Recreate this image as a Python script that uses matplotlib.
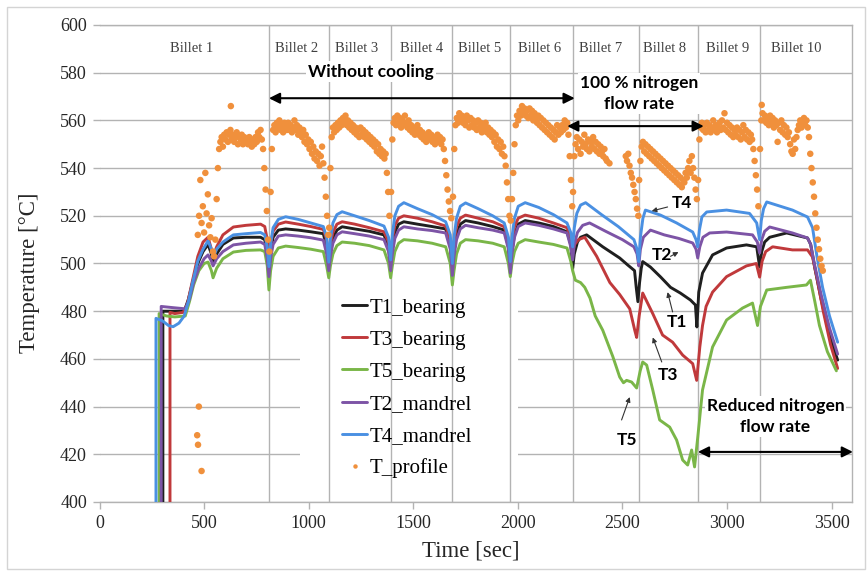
import numpy as np
import matplotlib
matplotlib.use('Agg')
import matplotlib.pyplot as plt
from matplotlib.patches import Rectangle
from matplotlib.lines import Line2D

# ---------------- data ----------------
billet_edges = [810, 1096, 1392, 1687, 1964, 2262, 2578, 2860, 3156]
billet_names = ['Billet 1', 'Billet 2', 'Billet 3', 'Billet 4', 'Billet 5',
                'Billet 6', 'Billet 7', 'Billet 8', 'Billet 9', 'Billet 10']
billet_label_t = [442, 944, 1230, 1540, 1818, 2105, 2396, 2702, 3003, 3333]

# shared time points for billets 2-6 (all thermocouples)
mid_t = [810, 818, 830, 855, 890, 950, 1010, 1070, 1086,
         1096, 1104, 1116, 1135, 1160, 1220, 1290, 1360, 1382,
         1392, 1400, 1412, 1430, 1455, 1520, 1590, 1655, 1677,
         1687, 1695, 1707, 1725, 1750, 1810, 1880, 1935, 1955,
         1964, 1972, 1984, 2002, 2035, 2100, 2170, 2235, 2253]

# T1_bearing (black)
t1_b1_t = [303, 303, 350, 405, 425, 445, 470, 495, 519, 535, 543, 560, 590, 640, 700, 770, 790, 802]
t1_b1_T = [400, 480, 480, 480, 485, 492, 500, 505, 508, 504, 500.6, 504, 508, 510.7, 511, 511, 510, 504]
t1_mid_T = [496.6, 505, 511, 514, 514.5, 514, 513.3, 512.5, 507,
            498, 505, 510.5, 514, 515.4, 514.5, 513.5, 512, 507,
            498, 506, 513, 516.5, 517.5, 516.5, 515.5, 514.5, 508,
            497, 505, 512, 516.5, 518, 517, 515.5, 514, 507,
            497.3, 505, 512, 516.5, 518, 517, 515.5, 513.3, 508]
t1_b7_t = [2262, 2270, 2285, 2300, 2329, 2406, 2487, 2525, 2558, 2566, 2574, 2582, 2590, 2597,
           2634, 2682, 2730, 2777, 2825, 2849, 2856, 2865, 2883, 2931, 2998, 3093, 3142, 3156,
           3166, 3180, 3204, 3285, 3385, 3400, 3420, 3450, 3490, 3529]
t1_b7_T = [498, 504, 509, 511, 512, 507, 502.3, 499.4, 497, 490, 484, 492, 498, 500.8,
           498.5, 494.4, 490, 487.6, 484.7, 482.6, 473.4, 488, 496, 503.6, 506.5, 507.8, 507, 498.5,
           505, 509, 511, 512.8, 510.7, 508, 498, 485, 470, 459.5]

# T3_bearing (red)
t3_b1_t = [337, 337, 360, 400, 420, 445, 470, 495, 519, 535, 543, 560, 590, 640, 700, 770, 790, 802]
t3_b1_T = [400, 479.5, 479, 479.5, 483, 493, 503, 509, 511, 506, 502.7, 507, 512, 515.3, 516, 516.5, 515.5, 510]
t3_mid_T = [500, 508, 513.5, 516.5, 517.4, 516.5, 515.5, 514.3, 510,
            501, 508, 513, 516.5, 517.5, 516.5, 515, 513.3, 509,
            502, 510, 516, 519, 520, 519, 517.5, 515.7, 510,
            501, 509, 515.5, 519, 520.3, 519, 517.5, 515.4, 510,
            501, 509, 515.5, 519, 520.3, 519, 517, 515, 511]
t3_b7_t = [2262, 2272, 2290, 2320, 2377, 2440, 2487, 2535, 2559, 2568,
           2580, 2597, 2645, 2692, 2740, 2788, 2836, 2855, 2870, 2883,
           2900, 2931, 2998, 3093, 3140, 3156, 3168, 3185, 3218, 3313,
           3385, 3409, 3430, 3460, 3495, 3529]
t3_b7_T = [505, 508, 510, 511, 503, 492, 487, 481, 472, 469,
           478, 487.6, 479, 470, 467, 461.6, 458, 451, 465, 474,
           482, 488, 494.5, 499, 500, 494.3, 501, 505, 507, 505.7,
           505.7, 502.7, 494, 480, 466, 456]

# T5_bearing (green)
t5_b1_t = [285, 285, 320, 360, 410, 430, 450, 475, 500, 519, 535, 543, 560, 590, 640, 700, 770, 790, 802]
t5_b1_T = [400, 479, 478, 477.6, 478, 484, 491, 497, 500, 500.6, 497, 494, 498, 502, 504.8, 505.5, 505.7, 505, 499]
t5_mid_T = [488.9, 497, 503, 506.5, 507.3, 506.7, 506, 505, 499,
            494, 499, 504, 507.5, 509, 508.5, 507.5, 505.7, 500,
            494, 499, 505, 508.5, 510, 509.5, 508.5, 507, 500,
            491, 497, 504, 508.5, 510, 509.5, 508.5, 507, 500,
            494.5, 500, 505, 508.5, 510, 509, 508, 506.5, 501]
t5_b7_t = [2262, 2275, 2300, 2320, 2345, 2370, 2406, 2454, 2487, 2505,
           2520, 2544, 2568, 2585, 2597, 2616, 2645, 2678, 2726, 2759,
           2788, 2812, 2831, 2845, 2860, 2883, 2931, 2998, 3074, 3122,
           3146, 3160, 3190, 3285, 3380, 3399, 3420, 3442, 3480, 3523]
t5_b7_T = [497, 493, 492, 490, 485.5, 478, 472, 461, 452.4, 450,
           451, 450.3, 447.8, 455, 458.7, 457.4, 447, 434.4, 431.4, 426,
           417.6, 415.5, 421.8, 414.7, 427, 447, 465, 476.3, 481.3, 483.4,
           474, 482, 488.9, 490, 491, 493, 484, 474, 463, 455]

# T2_mandrel (purple)
t2_b1_t = [295, 295, 350, 410, 430, 450, 475, 500, 519, 535, 543, 560, 590, 640, 700, 770, 790, 802]
t2_b1_T = [400, 482, 481.5, 481, 485, 492, 498, 502, 503.6, 501, 499, 502, 505, 507.8, 508.5, 509, 508, 502]
t2_mid_T = [494.5, 502, 508, 511.5, 512, 511.5, 510.8, 509.8, 504,
            497, 503, 508.5, 512, 513.3, 512.5, 511.5, 510, 505,
            497, 504, 510.5, 514, 515.4, 514.5, 513.8, 512.8, 506,
            495, 503, 510, 514.5, 516, 515, 514, 512.8, 506,
            496, 504, 511, 515.5, 517, 516, 514.5, 512.8, 507]
t2_b7_t = [2262, 2270, 2285, 2310, 2343, 2420, 2500, 2555, 2570, 2578,
           2586, 2600, 2634, 2700, 2770, 2836, 2852, 2860, 2870, 2885,
           2917, 2998, 3122, 3145, 3156, 3166, 3180, 3204, 3313, 3385,
           3400, 3420, 3450, 3490, 3529]
t2_b7_T = [501.5, 508, 513, 516, 517, 513.5, 510, 507, 504, 499,
           506, 511, 514, 512, 510.5, 508.6, 506, 502.3, 507, 511,
           512.8, 513.2, 512, 509, 504.4, 510, 513.5, 515.3, 512.8, 510.7,
           508, 499, 487, 473, 462]

# T4_mandrel (blue)
t4_b1_t = [270, 270, 300, 330, 352, 380, 405, 425, 445, 470, 495, 519, 535, 543, 560, 590, 640, 700, 770, 790, 802]
t4_b1_T = [400, 477, 476, 474, 473.5, 475, 478, 484, 492, 501, 506, 509.5, 506, 502.5, 506, 509, 512, 512.5, 513, 512, 507]
t4_mid_T = [498.7, 508, 515, 518.5, 519.6, 518.5, 517, 515.5, 511,
            500.6, 510, 517, 520.5, 521.7, 520, 518, 515.7, 511,
            501.5, 512, 520, 524, 525.5, 523, 520.5, 517.5, 512,
            500, 511, 519, 524, 525.4, 523, 520, 517, 511,
            500.8, 511, 519, 524, 525.5, 523.5, 520.5, 517, 513]
t4_b7_t = [2262, 2270, 2282, 2300, 2324, 2400, 2480, 2555, 2570, 2578,
           2586, 2598, 2610, 2682, 2759, 2836, 2852, 2860, 2868, 2880,
           2903, 2998, 3108, 3142, 3156, 3164, 3175, 3190, 3237, 3313,
           3385, 3409, 3430, 3457, 3490, 3529]
t4_b7_T = [507, 515, 521, 524.5, 525.5, 520.5, 515.5, 510, 506, 500.8,
           511, 519, 522.4, 520.3, 517, 513.2, 510, 507, 514, 519.5,
           521.6, 522.4, 521, 517, 510, 518, 523, 525.8, 524.5, 522.4,
           519.5, 515, 503, 490, 478, 467]

# T_profile (orange scatter): start time of each billet's readings, sampled every 6 s
profile_start = [470, 812, 1098, 1394, 1690, 1966, 2264, 2580, 2862, 3158]
profile_step = 6
profile_b1 = [512, 520, 535, 517, 524, 513, 538, 521, 529, 516,
              511, 519, 505, 503, 510, 527, 540, 548, 551, 553,
              549, 554, 552, 555, 551, 554, 556, 552, 554, 551,
              553, 555, 550, 553, 552, 554, 550, 553, 551, 552,
              550, 553, 551, 549, 552, 550, 553, 551, 555, 553,
              556, 552, 548, 540, 531, 522, 510]
profile_b2 = [505, 530, 548, 556, 558, 555, 559, 557, 560, 556,
              558, 555, 559, 557, 556, 559, 556, 558, 555, 557,
              560, 556, 558, 554, 557, 555, 553, 556, 551, 554,
              550, 552, 548, 551, 546, 549, 544, 547, 543, 546,
              541, 545, 549, 542, 536, 528, 520, 512]
profile_b3 = [515, 540, 553, 557, 555, 558, 556, 559, 557, 560,
              558, 561, 559, 562, 558, 560, 557, 559, 556, 558,
              555, 557, 554, 556, 553, 557, 554, 556, 553, 555,
              552, 554, 551, 553, 550, 552, 549, 551, 547, 550,
              546, 548, 545, 547, 544, 546, 538, 530, 520]
profile_b4 = [530, 552, 559, 561, 558, 562, 559, 561, 557, 560,
              558, 562, 559, 557, 560, 556, 558, 555, 557, 554,
              556, 558, 554, 556, 553, 555, 552, 554, 551, 553,
              555, 552, 554, 551, 553, 550, 552, 554, 551, 553,
              550, 552, 548, 543, 537, 531, 526, 522, 519]
profile_b5 = [528, 548, 558, 561, 559, 563, 560, 562, 559, 561,
              558, 562, 560, 557, 561, 558, 560, 557, 559, 556,
              560, 557, 559, 555, 558, 556, 559, 555, 557, 554,
              556, 553, 555, 551, 554, 549, 552, 548, 551, 546,
              549, 545, 541, 534, 527, 520]
profile_b6 = [518, 527, 538, 550, 558, 562, 560, 564, 562, 566,
              563, 565, 562, 564, 561, 565, 562, 564, 560, 563,
              561, 559, 562, 558, 561, 557, 560, 556, 559, 555,
              558, 554, 557, 553, 556, 552, 555, 558, 554, 557,
              555, 558, 556, 560, 557, 559, 554, 545, 535, 524]
profile_b7 = [530, 545, 550, 553, 548, 552, 546, 551, 549, 554,
              550, 548, 552, 547, 551, 549, 553, 548, 551, 547,
              550, 546, 549, 547, 545, 548, 544, 543, None, 542,
              None, None, None, None, None, None, None, None, None, None,
              None, None, 545, 543, 546, 541, 538, 536, 533, 530,
              527, 523, 520]
profile_b8 = [535, 543, 549, 551, 547, 550, 546, 549, 545, 548,
              544, 547, 543, 546, 542, 545, 541, 544, 540, 543,
              539, 542, 538, 541, 537, 540, 536, 539, 535, 538,
              534, 537, 533, 536, 532, 535, 534, 538, 536, 540,
              543, 538, 545, 540, 536, 531, 527]
profile_b9 = [535, 552, 557, 559, 556, 558, 555, 559, 556, 558,
              555, 557, 560, 556, 558, 555, 557, 559, 556, 560,
              557, 563, 556, 559, 555, 558, 554, 557, 553, 556,
              554, 557, 553, 556, 552, 555, 558, 553, 556, 552,
              555, 551, 554, 552, 548, 543, 537, 531, 524]
profile_b10 = [548, 560, 563, 560, 562, 559, 561, 558, 562, 559,
               561, 557, 560, 558, 551, 559, 556, 560, 555, 558,
               554, 557, 553, 555, 550, 547, 546, 552, 548, 553,
               556, 558, 560, 557, 559, 561, 558, 560, 557, 553,
               546, 540, 534, 528, 521, 515, 510, 506, 502, 499, 497]
profile_extra_t = [628, 475, 467, 471, 488, 3166]
profile_extra_T = [566, 440, 428, 424, 413, 566.5]

# ---------------- style ----------------
W, H = 867, 572
SERIF = 'Liberation Serif'
SANS = 'Lato'
C_BLACK = '#1f1f1f'
C_RED = '#c0393b'
C_GREEN = '#7ab648'
C_PURPLE = '#7d54a6'
C_BLUE = '#4a90e2'
C_ORANGE = '#f0903c'
GRID = '#b3b3b3'

fig = plt.figure(figsize=(W / 100, H / 100), dpi=100)
fig.patch.set_facecolor('white')
fig.add_artist(Rectangle((7 / W, 3 / H), 858 / W, 562 / H, transform=fig.transFigure,
                         facecolor='none', edgecolor='#d4d4d4', lw=1.0))
ax = fig.add_axes([99.5 / W, 1 - 502 / H, 753 / W, 477 / H])
ax.set_xlim(0, 3600)
ax.set_ylim(400, 600)
ax.set_xticks(np.arange(0, 3600, 500))
ax.set_yticks(np.arange(400, 601, 20))
ax.set_axisbelow(True)
ax.yaxis.grid(True, color=GRID, lw=1.0)
for s in ['top', 'right', 'bottom']:
    ax.spines[s].set_color(GRID)
    ax.spines[s].set_linewidth(1.0)
ax.spines['left'].set_visible(False)
ax.tick_params(axis='both', which='major', direction='out', length=5, width=1.0,
               color=GRID, labelcolor='#262626', labelsize=13, pad=4)
for lab in ax.get_xticklabels() + ax.get_yticklabels():
    lab.set_fontfamily(SERIF)

# white legend background hides grid, billet separators stay visible
ax.add_patch(Rectangle((958, 408), 1042, 82, facecolor='white', edgecolor='none', zorder=1))
for b in billet_edges:
    ax.axvline(b, color=GRID, lw=1.0, zorder=1.5)

for t, name in zip(billet_label_t, billet_names):
    ax.text(t, 590, name, ha='center', va='center', fontsize=10.5, family=SERIF,
            color='#404040', zorder=3)

series = [
    ('T1_bearing', C_BLACK, t1_b1_t, t1_b1_T, t1_mid_T, t1_b7_t, t1_b7_T),
    ('T3_bearing', C_RED, t3_b1_t, t3_b1_T, t3_mid_T, t3_b7_t, t3_b7_T),
    ('T5_bearing', C_GREEN, t5_b1_t, t5_b1_T, t5_mid_T, t5_b7_t, t5_b7_T),
    ('T2_mandrel', C_PURPLE, t2_b1_t, t2_b1_T, t2_mid_T, t2_b7_t, t2_b7_T),
    ('T4_mandrel', C_BLUE, t4_b1_t, t4_b1_T, t4_mid_T, t4_b7_t, t4_b7_T),
]
handles = []
for name, col, b1t, b1T, midT, b7t, b7T in series:
    tt = b1t + mid_t + b7t
    TT = b1T + midT + b7T
    ln, = ax.plot(tt, TT, color=col, lw=2.1, label=name, zorder=3,
                  solid_joinstyle='round', solid_capstyle='round')
    handles.append(ln)

profiles = [profile_b1, profile_b2, profile_b3, profile_b4, profile_b5,
            profile_b6, profile_b7, profile_b8, profile_b9, profile_b10]
pt, pT = [], []
for t0, vals in zip(profile_start, profiles):
    for i, v in enumerate(vals):
        if v is not None:
            pt.append(t0 + i * profile_step)
            pT.append(v)
pt += profile_extra_t
pT += profile_extra_T
ax.scatter(pt, pT, s=22, color=C_ORANGE, edgecolors='none', zorder=4, label='T_profile')
handles.append(Line2D([], [], marker='o', ls='none', color=C_ORANGE, markersize=3.2,
                      markeredgewidth=0, label='T_profile'))

leg = ax.legend(handles=handles, loc='upper left', bbox_to_anchor=(342 / W, 1 - 298 / H),
                bbox_transform=fig.transFigure, frameon=False,
                prop={'family': SERIF, 'size': 15}, handlelength=1.2, handletextpad=0.12,
                labelspacing=0.6, borderpad=0, borderaxespad=0)
leg.set_zorder(6)

ax.set_xlabel('Time [sec]', fontsize=16.5, family=SERIF, color='#262626')
ax.set_ylabel('Temperature [°C]', fontsize=16.5, family=SERIF, color='#262626')
ax.xaxis.set_label_coords((471 - 99.5) / 753, (502 - 540) / 477)
ax.yaxis.set_label_coords((40 - 99.5) / 753, 0.48)

# annotations
bold = dict(family=SANS, weight='bold', color='black', zorder=7)
wbox = dict(facecolor='white', edgecolor='none', pad=1.5)
ax.text(1297, 580.5, 'Without cooling', ha='center', va='center', fontsize=12.5,
        bbox=wbox, **bold)
ax.text(2578, 571.3, '100 % nitrogen\nflow rate', ha='center', va='center', fontsize=12.5,
        linespacing=1.35, bbox=wbox, **bold)
ax.text(3232, 435.8, 'Reduced nitrogen\nflow rate', ha='center', va='center', fontsize=12.5,
        linespacing=1.35, bbox=wbox, **bold)

arrow2 = dict(arrowstyle='<|-|>', color='black', lw=1.5, mutation_scale=16, shrinkA=0, shrinkB=0)
ax.annotate('', xy=(2272, 569.3), xytext=(810, 569.3), arrowprops=arrow2, zorder=7)
ax.annotate('', xy=(2889, 557.6), xytext=(2236, 557.6), arrowprops=arrow2, zorder=7)
ax.annotate('', xy=(3602, 421), xytext=(2861, 421), arrowprops=arrow2, zorder=7,
            annotation_clip=False)

small_arrow = dict(arrowstyle='-|>', color='#333333', lw=0.8, mutation_scale=7, shrinkA=0, shrinkB=0)
labels_T = [('T4', 2783, 525.4, 2716, 523.7, 2640, 522.0),
            ('T2', 2688, 503.6, 2730, 503.0, 2768, 504.8),
            ('T1', 2759, 475.5, 2740, 479.7, 2716, 488.0),
            ('T3', 2716, 453.2, 2688, 458.7, 2645, 469.0),
            ('T5', 2520, 426.0, 2496, 434.4, 2535, 444.0)]
for txt, tx, ty, ax0, ay0, ax1, ay1 in labels_T:
    ax.text(tx, ty, txt, ha='center', va='center', fontsize=12.5, **bold)
    ax.annotate('', xy=(ax1, ay1), xytext=(ax0, ay0), arrowprops=small_arrow, zorder=7)

fig.savefig('out.png', dpi=100)
